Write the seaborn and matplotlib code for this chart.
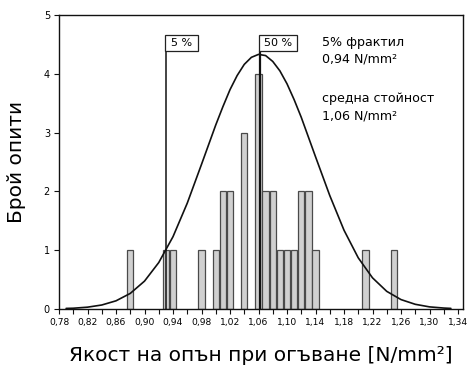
import matplotlib
matplotlib.use("Agg")
import matplotlib.pyplot as plt
from matplotlib.patches import Rectangle
import seaborn as sns
import pandas as pd
import numpy as np

# Bar data: strength value (N/mm2) and number of tests
strength = [0.88, 0.93, 0.94, 0.98, 1.00, 1.01, 1.02, 1.04, 1.06, 1.07,
            1.08, 1.09, 1.10, 1.11, 1.12, 1.13, 1.14, 1.21, 1.25]
counts = [1, 1, 1, 1, 1, 2, 2, 3, 4, 2,
          2, 1, 1, 1, 2, 2, 1, 1, 1]

# Fitted normal curve
curve_x = [0.79, 0.80, 0.82, 0.84, 0.86, 0.88, 0.90, 0.92, 0.94, 0.96, 0.98,
           1.00, 1.01, 1.02, 1.03, 1.04, 1.05, 1.06, 1.07, 1.08, 1.09, 1.10,
           1.11, 1.12, 1.14, 1.16, 1.18, 1.20, 1.22, 1.24, 1.26, 1.28, 1.30,
           1.32, 1.33]
curve_y = [0.01, 0.013, 0.031, 0.068, 0.139, 0.265, 0.474, 0.79, 1.23, 1.80, 2.46,
           3.13, 3.44, 3.73, 3.97, 4.16, 4.28, 4.33, 4.31, 4.21, 4.05, 3.83,
           3.56, 3.26, 2.59, 1.93, 1.34, 0.87, 0.53, 0.30, 0.16, 0.08, 0.036,
           0.016, 0.01]

x_ticks = [0.78, 0.82, 0.86, 0.90, 0.94, 0.98, 1.02, 1.06, 1.10, 1.14,
           1.18, 1.22, 1.26, 1.30, 1.34]
y_ticks = [0, 1, 2, 3, 4, 5]

fractile_x = 0.9298
mean_x = 1.0624
marker_labels = ["5 %", "50 %"]
notes = ["5% фрактил", "0,94 N/mm²", "средна стойност", "1,06 N/mm²"]

sns.set_theme(style="ticks")
plt.rcParams['font.family'] = ['DejaVu Sans']
plt.rcParams['text.color'] = 'black'
plt.rcParams['axes.labelcolor'] = 'black'
plt.rcParams['xtick.color'] = 'black'
plt.rcParams['ytick.color'] = 'black'

fig = plt.figure(figsize=(4.68, 3.67), dpi=100)
ax = fig.add_axes([59 / 468, 58 / 367, 404 / 468, 294 / 367])

df = pd.DataFrame({"x": strength, "y": counts})
sns.barplot(data=df, x="x", y="y", native_scale=True, width=0.88,
            color="#d0d0d0", edgecolor="#4a4a4a", linewidth=0.9,
            saturation=1, ax=ax, zorder=2)

sns.lineplot(x=curve_x, y=curve_y, color="#111111", linewidth=1.2, ax=ax,
             zorder=4)

# vertical lines for 5% and 50%, with label boxes
box_bottom = 4.383
box_top = 4.668
ax.plot([fractile_x, fractile_x], [0, box_bottom], color="#111111", lw=1.1, zorder=3)
ax.plot([mean_x, mean_x], [0, box_bottom], color="#111111", lw=1.6, zorder=3)

boxes = [(fractile_x - 0.0009, 0.0468), (mean_x - 0.0013, 0.0525)]
for (bx, bw), lab in zip(boxes, marker_labels):
    ax.add_patch(Rectangle((bx, box_bottom), bw, box_top - box_bottom,
                           facecolor="white", edgecolor="#222222", lw=0.9,
                           zorder=5))
    ax.text(bx + bw / 2, (box_bottom + box_top) / 2, lab, fontsize=8,
            ha="center", va="center", zorder=6)

note_x = 1.1487
note_y = [4.53, 4.25, 3.58, 3.29]
for t, yy in zip(notes, note_y):
    ax.text(note_x, yy, t, fontsize=9.1, ha="left", va="center")

ax.set_xlim(0.78, 1.347)
ax.set_ylim(0, 5)
ax.set_xticks(x_ticks)
ax.set_xticklabels([f"{v:.2f}".replace(".", ",") for v in x_ticks], fontsize=6.6)
ax.set_xticks(np.arange(0.80, 1.35, 0.04), minor=True)
ax.set_yticks(y_ticks)
ax.set_yticklabels([str(v) for v in y_ticks], fontsize=7)
ax.tick_params(axis="both", which="both", direction="out", length=3.5,
               width=0.8, color="#111111", pad=3)

for s in ax.spines.values():
    s.set_visible(True)
    s.set_color("#111111")
    s.set_linewidth(1.0)

ax.set_xlabel("Якост на опън при огъване [N/mm²]", fontsize=14.5, labelpad=13.5)
ax.set_ylabel("Брой опити", fontsize=14.5, labelpad=13)
ax.grid(False)

fig.savefig("out.png", dpi=100)
